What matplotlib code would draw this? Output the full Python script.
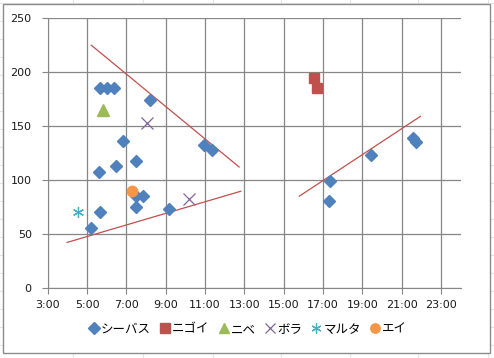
import matplotlib
matplotlib.use("Agg")
import matplotlib.pyplot as plt
from matplotlib.ticker import FuncFormatter, MultipleLocator
from matplotlib.patches import Rectangle
from matplotlib.lines import Line2D

plt.rcParams['font.family'] = ['Noto Sans CJK JP', 'DejaVu Sans']

# 釣果データ（時刻, サイズ）
seabass_time = ["5:38", "6:00", "6:22", "8:13", "6:51", "10:58", "11:21", "7:29", "6:29",
                "5:37", "7:29", "7:50", "7:28", "9:11", "5:40", "5:13",
                "17:20", "17:17", "19:26", "21:35", "21:43"]
seabass_size = [185, 185, 185, 174, 136, 132, 128, 118, 113,
                107, 85, 85, 75, 73, 70, 55,
                99, 80, 123, 139, 135]
nigoi_time = ["16:31", "16:41"]
nigoi_size = [195, 185]
nibe_time = ["5:50"]
nibe_size = [165]
bora_time = ["8:03", "10:12"]
bora_size = [153, 82]
maruta_time = ["4:32"]
maruta_size = [70]
ei_time = ["7:16"]
ei_size = [90]

# 傾向線（始点, 終点）
trend_upper_time = ["5:13", "12:44"]
trend_upper_size = [225, 112]
trend_lower_time = ["3:59", "12:49"]
trend_lower_size = [42, 89.5]
trend_evening_time = ["15:48", "21:57"]
trend_evening_size = [85, 159]


def hrs(ts):
    out = []
    for t in ts:
        h, m = t.split(":")
        out.append(int(h) + int(m) / 60.0)
    return out


W, H = 494, 358
fig = plt.figure(figsize=(W / 100, H / 100), dpi=100)

# 背景のシートの罫線（うすく）
cell = '#e3e3e3'
for x in [73, 143, 213, 281, 350, 418, 488]:
    fig.add_artist(Line2D([x / W, x / W], [0, 1], color=cell, lw=0.8, zorder=0))
for y in range(3, H, 18):
    fig.add_artist(Line2D([0, 1], [1 - y / H, 1 - y / H], color=cell, lw=0.8, zorder=0))
fig.patches.append(Rectangle((0.006, 0.014), 0.986, 0.976, transform=fig.transFigure,
                             facecolor='white', edgecolor='#8c8c8c', lw=1, zorder=0.5))

ax = fig.add_axes([0.0966, 0.1964, 0.836, 0.7525])
ax.set_zorder(2)
ax.patch.set_alpha(0)

gray = '#868686'
for tt, ss in [(trend_upper_time, trend_upper_size),
               (trend_lower_time, trend_lower_size),
               (trend_evening_time, trend_evening_size)]:
    ax.plot(hrs(tt), ss, color='#C0504D', lw=0.9, zorder=2)

ax.plot(hrs(seabass_time), seabass_size, 'D', color='#4F81BD', ms=6.5, ls='none', label='シーバス', zorder=3)
ax.plot(hrs(nigoi_time), nigoi_size, 's', color='#C0504D', ms=7.5, ls='none', label='ニゴイ', zorder=3)
ax.plot(hrs(nibe_time), nibe_size, '^', color='#9BBB59', ms=8, ls='none', label='ニベ', zorder=3)
ax.plot(hrs(bora_time), bora_size, 'x', color='#8064A2', ms=8, mew=0.9, ls='none', label='ボラ', zorder=3)
ax.plot(hrs(maruta_time), maruta_size, marker=(6, 2, 0), color='#4BACC6', ms=8, mew=0.9, ls='none', label='マルタ', zorder=3)
ax.plot(hrs(ei_time), ei_size, 'o', color='#F79646', ms=7.5, ls='none', label='エイ', zorder=3)

ax.set_xlim(3, 24)
ax.set_ylim(0, 250)
ax.set_xticks(list(range(3, 24, 2)))
ax.yaxis.set_major_locator(MultipleLocator(50))
ax.xaxis.set_major_formatter(FuncFormatter(lambda v, p: "%d:00" % int(round(v))))

ax.grid(True, color=gray, lw=0.9)
ax.set_axisbelow(True)
ax.spines['top'].set_visible(False)
ax.spines['right'].set_visible(False)
ax.spines['left'].set_color(gray)
ax.spines['bottom'].set_color(gray)
ax.tick_params(length=4, color=gray, labelsize=8)
ax.tick_params(axis='y', pad=7.5)
ax.tick_params(axis='x', pad=5)
for lab in ax.get_xticklabels() + ax.get_yticklabels():
    lab.set_fontfamily('DejaVu Sans')
    lab.set_color('#1a1a1a')

leg = fig.legend(loc='center', bbox_to_anchor=(0.5, 0.08), ncol=6, frameon=False,
                 fontsize=9, handletextpad=0.0, columnspacing=0.6, handlelength=1.1,
                 markerscale=0.9)
leg.set_zorder(3)

fig.savefig("out.png", dpi=100)
